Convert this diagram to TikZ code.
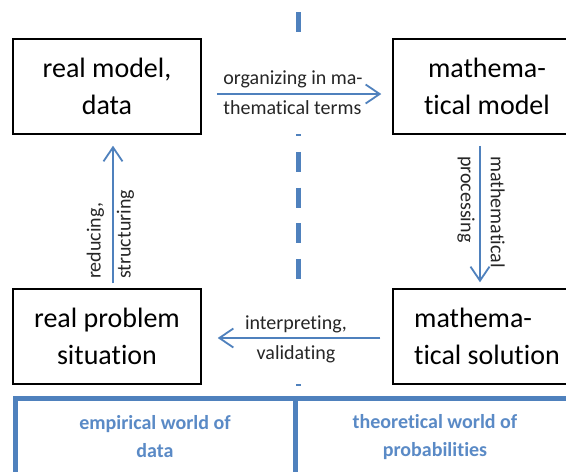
\documentclass[tikz,border=0pt]{standalone}
\usepackage{fontspec}
\setmainfont{Carlito}[Ligatures={NoCommon,NoRare}]
\usetikzlibrary{arrows.meta}
\definecolor{ablue}{HTML}{4F81BD}
\definecolor{tblue}{HTML}{5A8AC6}
\begin{document}
\begin{tikzpicture}[x=1pt,y=-1pt,
 box/.style={draw=black, line width=1.5pt, minimum width=188pt, minimum height=95pt, inner sep=0pt, font=\fontsize{28}{37}\selectfont, align=center},
 lab/.style={font=\fontsize{20}{30}\selectfont, inner sep=0pt, text=black!85},
 flow/.style={draw=ablue, line width=1.8pt, -{Straight Barb[length=14pt,width=19pt]}},
 band/.style={draw=ablue, line width=5pt},
 bandtext/.style={text=tblue, font=\bfseries\fontsize{20}{28}\selectfont, align=center}]
\clip (0,0) rectangle (566,472);
\fill[white] (0,0) rectangle (566,472);
% dashed divider
\draw[ablue, line width=5pt] (298,12) -- (298,32);
\draw[ablue, line width=5pt, dash pattern=on 20pt off 15.67pt] (298,116.3) -- (298,387);
\fill[white] (205,39) rectangle (389,134);
\fill[white] (205,289) rectangle (389,384);
% bottom band
\draw[band] (15.5,480) -- (15.5,398.5) -- (580,398.5);
\draw[band] (295,398.5) -- (295,480);
% boxes
\node[box] (rm) at (107,86.5) {real model,\\data};
\node[box] (mm) at (487,86.5) {mathema-\\tical model};
\node[box] (rp) at (107,336.5) {real problem\\situation};
\node[box, align=left] (ms) at (487,336.5) {mathema-\\tical solution};
% arrows
\draw[flow, shorten <=15pt, shorten >=11pt] ([yshift=-7.5pt]rm.east) -- ([yshift=-7.5pt]mm.west);
\draw[flow, shorten <=12pt, shorten >=16pt] ([yshift=-1.5pt]ms.west) -- ([yshift=-1.5pt]rp.east);
\draw[flow, shorten <=5pt, shorten >=11pt] ([xshift=6pt]rp.north) -- ([xshift=6pt]rm.south);
\draw[flow, shorten <=11pt, shorten >=6pt] ([xshift=-7pt]mm.south) -- ([xshift=-7pt]ms.north);
% labels
\node[lab, align=left] (l1) at (293,93) {organizing in ma-\\thematical terms};
\node[lab, align=center] (l3) at (296,339.5) {interpreting,\\validating};
\node[lab, align=left, rotate=90, anchor=west] (l2) at (110.5,279) {reducing,\\structuring};
\node[lab, align=left, rotate=-90, anchor=west] (l4) at (481,156) {mathematical\\processing};
% band text
\node[bandtext] (ew) at (155,437) {empirical world of\\data};
\node[bandtext] (tw) at (435,437) {theoretical world of\\probabilities};
\end{tikzpicture}
\end{document}
